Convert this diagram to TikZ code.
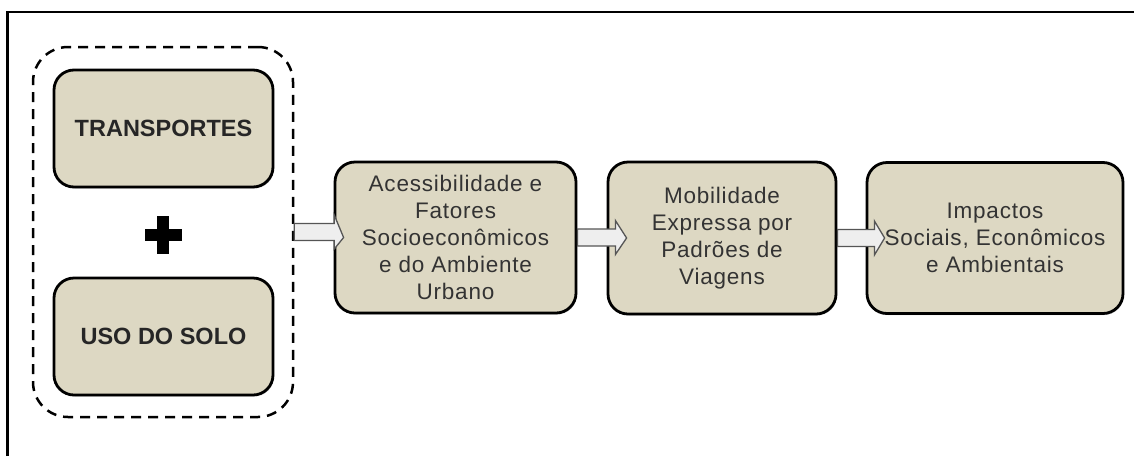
\documentclass[tikz,border=0pt]{standalone}
\usepackage{fontspec}
\setmainfont{Liberation Sans}
\newfontfamily\spacedsans[LetterSpace=3.5]{Liberation Sans}
\usetikzlibrary{calc,shadows}
\definecolor{boxfill}{HTML}{DDD8C3}
\definecolor{txt}{HTML}{333333}
\definecolor{arrline}{HTML}{555555}
\definecolor{arrfill}{HTML}{EEEEEE}
\tikzset{
  stepbox/.style={draw=black, line width=2.8pt, fill=boxfill, rounded corners=20pt,
     align=center, text=txt, font=\spacedsans\fontsize{22.5}{27.2}\selectfont, inner sep=0pt,
     drop shadow={shadow xshift=1pt, shadow yshift=-1.5pt, fill=gray!70, opacity=0.6}},
  bigbox/.style={stepbox, font=\bfseries\fontsize{23.5}{27}\selectfont, text=black!85},
  groupbox/.style={draw=black, line width=2.5pt, dash pattern=on 10pt off 7pt,
     rounded corners=35pt, minimum width=260pt, minimum height=370pt, inner sep=0pt},
  fatarrow/.style={draw=arrline, line width=1.3pt, fill=arrfill, line join=miter},
  frameline/.style={line width=2.5pt, black}
}
\begin{document}
\begin{tikzpicture}[x=1pt,y=-1pt]
\useasboundingbox (0,0) rectangle (1134,456);
% frame
\coordinate (ftl) at (7.5,12);
\coordinate (ftr) at (1134,12);
\coordinate (fbl) at (7.5,456);
\draw[frameline] (fbl) -- (ftl) -- (ftr);
% group
\node[groupbox] (outer) at (163,232) {};
\node[bigbox, minimum width=219pt, minimum height=117pt] (trans) at (163.5,128.5) {TRANSPORTES};
\node[bigbox, minimum width=219pt, minimum height=117pt] (uso) at (163.5,336.5) {USO DO SOLO};
% plus
\coordinate (plus) at (163,235);
\fill[black] ($(plus)+(-18.5,-6)$) rectangle ($(plus)+(18.5,6)$);
\fill[black] ($(plus)+(-6,-19)$) rectangle ($(plus)+(6,19)$);
% flow boxes
\node[stepbox, minimum width=241pt, minimum height=151pt] (acc) at (455.5,237.5)
  {Acessibilidade e\\Fatores\\Socioeconômicos\\e do Ambiente\\Urbano};
\node[stepbox, minimum width=228pt, minimum height=152pt] (mob) at (722,238)
  {Mobilidade\\Expressa por\\Padrões de\\Viagens};
\node[stepbox, minimum width=256pt, minimum height=151pt] (imp) at (995,238)
  {Impactos\\Sociais, Econômicos\\e Ambientais};
% arrows
\draw[fatarrow] ($(outer.east)+(0,-8.5)$) -- ($(outer.east)+(40,-8.5)$) -- ($(outer.east)+(40,-17)$)
  -- ($(acc.west)+(10,0)$) -- ($(outer.east)+(40,17)$) -- ($(outer.east)+(40,8.5)$) -- ($(outer.east)+(0,8.5)$) -- cycle;
\draw[fatarrow] ($(acc.east)+(0,-8.5)$) -- ($(acc.east)+(38,-8.5)$) -- ($(acc.east)+(38,-17)$)
  -- ($(mob.west)+(20,0)$) -- ($(acc.east)+(38,17)$) -- ($(acc.east)+(38,8.5)$) -- ($(acc.east)+(0,8.5)$) -- cycle;
\draw[fatarrow] ($(mob.east)+(0,-8.5)$) -- ($(mob.east)+(37,-8.5)$) -- ($(mob.east)+(37,-17)$)
  -- ($(imp.west)+(19,0)$) -- ($(mob.east)+(37,17)$) -- ($(mob.east)+(37,8.5)$) -- ($(mob.east)+(0,8.5)$) -- cycle;
\end{tikzpicture}
\end{document}
